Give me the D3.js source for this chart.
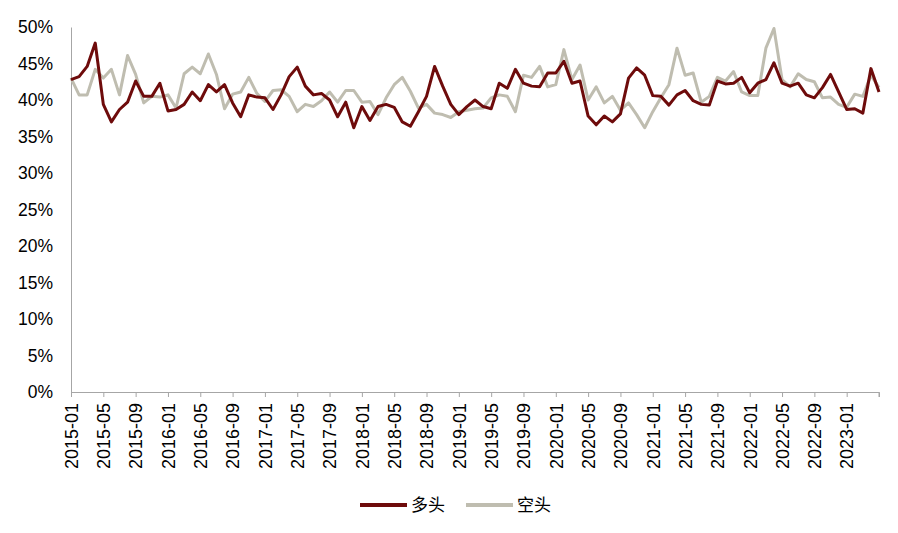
<!DOCTYPE html>
<html><head><meta charset="utf-8">
<script src="https://cdn.jsdelivr.net/npm/d3@7/dist/d3.min.js"></script>
<style>body{margin:0;background:#fff}svg{display:block}</style>
</head><body>
<script>
const startYear = 2015, startMonth = 1, nMonths = 101;
const seriesNames = ["多头", "空头"];
const longVals = [42.8,43.2,44.6,47.8,39.4,37.0,38.7,39.7,42.6,40.5,40.5,42.3,38.5,38.7,39.4,41.1,39.9,42.1,41.1,42.1,
39.6,37.7,40.7,40.4,40.3,38.7,40.7,43.2,44.5,41.9,40.7,40.9,40.0,37.7,39.7,36.2,39.1,37.2,39.1,39.4,
39.0,37.0,36.4,38.4,40.5,44.6,41.9,39.4,38.0,39.1,40.0,39.1,38.8,42.3,41.6,44.2,42.3,41.9,41.8,43.7,
43.7,45.3,42.3,42.6,37.8,36.6,37.8,37.0,38.1,43.0,44.4,43.4,40.6,40.5,39.3,40.7,41.3,39.9,39.4,39.3,
42.6,42.2,42.3,43.1,41.0,42.3,42.8,45.1,42.3,41.9,42.3,40.7,40.3,41.7,43.5,41.1,38.7,38.8,38.2,44.3,41.1];
const shortVals = [43.0,40.7,40.7,44.2,43.0,44.2,40.7,46.1,43.5,39.6,40.5,40.4,40.7,38.9,43.6,44.5,43.6,46.3,43.5,38.8,
40.8,41.1,43.1,40.9,39.8,41.3,41.4,40.5,38.4,39.4,39.1,39.9,41.1,39.7,41.3,41.3,39.7,39.8,38.0,40.3,
42.1,43.1,41.2,38.9,39.4,38.2,38.0,37.6,38.4,38.6,38.8,38.9,40.3,40.7,40.5,38.4,43.4,43.1,44.6,41.8,
42.1,46.9,42.8,44.8,40.0,41.8,39.6,40.5,38.6,39.6,38.0,36.2,38.4,40.3,42.1,47.1,43.4,43.7,39.7,40.5,
43.1,42.6,43.9,41.1,40.6,40.6,47.1,49.8,42.8,41.8,43.6,42.8,42.5,40.3,40.4,39.4,39.0,40.8,40.5,43.4,41.7];
const yTicks = [0,5,10,15,20,25,30,35,40,45,50];

const months = d3.range(nMonths).map(i => {
  const m = startMonth - 1 + i;
  const y = startYear + Math.floor(m / 12);
  const mm = (m % 12) + 1;
  return y + "-" + String(mm).padStart(2, "0");
});
const xTickLabels = ["2015-01","2015-05","2015-09","2016-01","2016-05","2016-09","2017-01","2017-05","2017-09",
  "2018-01","2018-05","2018-09","2019-01","2019-05","2019-09","2020-01","2020-05","2020-09","2021-01","2021-05",
  "2021-09","2022-01","2022-05","2022-09","2023-01"];

const W = 898, H = 533;
const margin = {left: 71, right: 19, top: 27, bottom: 141};
const svg = d3.select("body").append("svg").attr("width", W).attr("height", H);
const font = "'Liberation Sans', Arial, sans-serif";

const x = d3.scalePoint().domain(months).range([margin.left, W - margin.right]);
const y = d3.scaleLinear().domain([0, 50]).range([H - margin.bottom, margin.top]);

// y axis
const yAxis = svg.append("g").attr("transform", `translate(${margin.left},0)`)
  .call(d3.axisLeft(y).tickValues(yTicks).tickSize(0).tickPadding(18).tickFormat(d => d + "%"));
yAxis.select(".domain").attr("stroke", "#a6a6a6").attr("stroke-width", 1);
yAxis.selectAll("text").attr("font-family", font).attr("font-size", 17.5).attr("fill", "#000");

// x axis
const xAxis = svg.append("g").attr("transform", `translate(0,${H - margin.bottom})`)
  .call(d3.axisBottom(x).tickValues(xTickLabels).tickSizeOuter(0).tickSize(5));
xAxis.select(".domain").attr("stroke", "#a6a6a6").attr("stroke-width", 1);
xAxis.selectAll(".tick line").attr("stroke", "#a6a6a6");
xAxis.append("line").attr("x1", x(months[nMonths-1])).attr("x2", x(months[nMonths-1]))
  .attr("y1", 0).attr("y2", 5).attr("stroke", "#a6a6a6");
xAxis.selectAll("text")
  .attr("font-family", font).attr("font-size", 18).attr("fill", "#000")
  .attr("transform", "rotate(-90)")
  .attr("text-anchor", "end")
  .attr("dy", "0.35em").attr("x", -11).attr("y", 0);

// lines
const line = d3.line().x((d, i) => x(months[i])).y(d => y(d));
const colors = ["#6e0b0b", "#bfbdb0"];
svg.append("path").datum(shortVals).attr("d", line).attr("fill", "none")
  .attr("stroke", colors[1]).attr("stroke-width", 3).attr("stroke-linejoin", "round");
svg.append("path").datum(longVals).attr("d", line).attr("fill", "none")
  .attr("stroke", colors[0]).attr("stroke-width", 3).attr("stroke-linejoin", "round");

// legend
const legendX = [360, 466];
seriesNames.forEach((name, k) => {
  const g = svg.append("g").attr("transform", `translate(${legendX[k]},505)`);
  g.append("line").attr("x1", 0).attr("x2", 47).attr("y1", 0).attr("y2", 0)
    .attr("stroke", colors[k]).attr("stroke-width", 4);
  g.append("text").attr("x", 51).attr("y", 0).attr("dy", "0.35em")
    .attr("font-family", "'Noto Sans CJK SC', sans-serif").attr("font-size", 17)
    .attr("fill", "#000").text(name);
});
</script>
</body></html>
